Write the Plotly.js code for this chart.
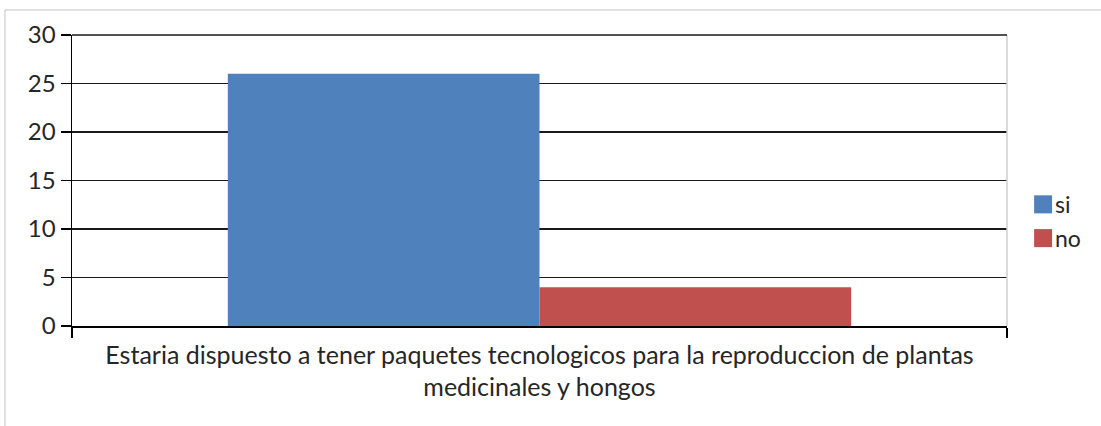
<!DOCTYPE html>
<html>
<head>
<meta charset="utf-8">
<script src="https://cdn.plot.ly/plotly-3.0.1.min.js"></script>
<style>
html,body{margin:0;padding:0;background:#fff;}
#chart{width:1101px;height:426px;}
</style>
</head>
<body>
<div id="chart"></div>
<script>
// Data
var categories = ["Estaria dispuesto a tener paquetes tecnologicos para la reproduccion de plantas<br>medicinales y hongos"];
var seriesNames = ["si", "no"];
var siValues = [26];
var noValues = [4];
var yTickVals = [0, 5, 10, 15, 20, 25, 30];
var yTickText = ["0", "5", "10", "15", "20", "25", "30"];

var colors = ["#4F81BD", "#C0504D"];
var FONT = "Lato, 'Open Sans', sans-serif";
var TXT = "#262626";

var traces = [
  {type: "bar", name: seriesNames[0], x: categories, y: siValues, marker: {color: colors[0]}, hoverinfo: "y+name"},
  {type: "bar", name: seriesNames[1], x: categories, y: noValues, marker: {color: colors[1]}, hoverinfo: "y+name"}
];

var shapes = [
  // outer frame
  {type: "rect", xref: "paper", yref: "paper", x0: -0.0717, x1: 1.12, y0: -0.4, y1: 1.086,
   line: {color: "#c3c3c3", width: 1}, fillcolor: "rgba(0,0,0,0)", layer: "below"},
  // right light edge of plot area
  {type: "line", xref: "paper", yref: "paper", x0: 1, x1: 1, y0: 0, y1: 1,
   line: {color: "#cfcfcf", width: 1.5}},
  // top border line of plot area (gridline at max)
  {type: "line", xref: "paper", yref: "paper", x0: 0, x1: 1, y0: 1, y1: 1,
   line: {color: "#1a1a1a", width: 1.5}}
];
var annotations = [];
var legendX = 1.029;
var legendY = [0.418, 0.302];
seriesNames.forEach(function(n, i){
  shapes.push({type: "rect", xref: "paper", yref: "paper",
    x0: legendX, x1: legendX + 0.0192, y0: legendY[i] - 0.031, y1: legendY[i] + 0.031,
    line: {width: 0}, fillcolor: colors[i]});
  annotations.push({xref: "paper", yref: "paper", x: legendX + 0.0205, y: legendY[i],
    xanchor: "left", yanchor: "middle", showarrow: false, text: n,
    font: {family: FONT, size: 23, color: TXT}});
});

var layout = {
  width: 1101, height: 426,
  margin: {l: 72, r: 94, t: 35, b: 100},
  paper_bgcolor: "#ffffff", plot_bgcolor: "#ffffff",
  showlegend: false,
  barmode: "group",
  bargap: 0.3333,
  bargroupgap: 0,
  font: {family: FONT, size: 24, color: TXT},
  xaxis: {
    type: "category",
    showline: true, linecolor: "#000", linewidth: 1.5,
    ticks: "outside", tickson: "boundaries", ticklen: 10, tickcolor: "#000", tickwidth: 1.5,
    showgrid: false,
    ticklabelstandoff: 6,
    tickfont: {family: FONT, size: 25, color: TXT},
    fixedrange: true
  },
  yaxis: {
    range: [0, 30],
    tickvals: yTickVals, ticktext: yTickText,
    showline: true, linecolor: "#000", linewidth: 1.5,
    ticks: "outside", ticklen: 10, tickcolor: "#000", tickwidth: 1.5,
    showgrid: true, gridcolor: "#1a1a1a", gridwidth: 1.5,
    zeroline: false,
    tickfont: {family: FONT, size: 24, color: TXT},
    fixedrange: true
  },
  shapes: shapes,
  annotations: annotations
};

Plotly.newPlot("chart", traces, layout, {displayModeBar: false, staticPlot: true});
</script>
</body>
</html>
